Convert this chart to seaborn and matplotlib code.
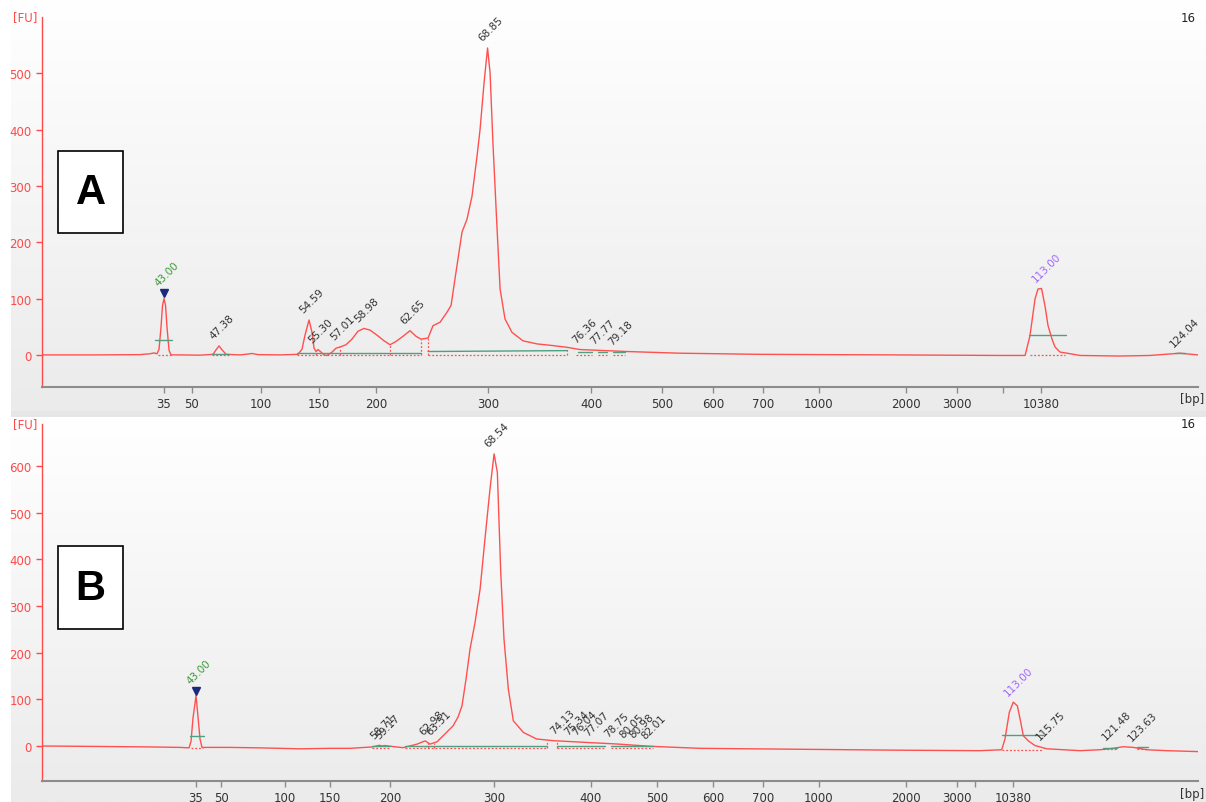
import numpy as np
import pandas as pd
import matplotlib
matplotlib.use("Agg")
import matplotlib.pyplot as plt
import matplotlib.colors as mcolors
from matplotlib.patches import Rectangle
import seaborn as sns

sns.set_theme(style="white")
plt.rcParams['font.family'] = ['DejaVu Sans']

# ---------------- Panel A data (migration time [s] vs fluorescence [FU]) ----------------
time_a = [33.26, 37.89, 41.08, 41.88, 42.20, 42.44, 42.60, 42.76, 42.88, 43.00, 43.12, 43.24,
          43.40, 43.56, 44.28, 45.87, 46.91, 47.15, 47.39, 47.63, 47.95, 49.07, 49.70, 50.02,
          50.50, 52.26, 53.69, 54.01, 54.25, 54.57, 54.81, 54.97, 55.13, 55.29, 55.53, 55.77,
          56.01, 56.41, 56.73, 57.04, 57.52, 58.00, 58.48, 58.96, 59.44, 60.00, 60.56, 61.04,
          61.52, 62.07, 62.63, 63.11, 63.51, 64.07, 64.47, 65.03, 65.59, 65.91, 66.22, 66.62,
          66.78, 67.18, 67.58, 67.98, 68.22, 68.54, 68.82, 69.02, 69.26, 69.58, 69.82, 70.21,
          70.77, 71.65, 72.77, 74.05, 75.16, 76.20, 77.80, 79.95, 84.18, 90.57, 101.18, 109.72,
          111.72, 112.11, 112.51, 112.75, 113.03, 113.31, 113.55, 113.87, 114.11, 114.51, 115.07,
          116.10, 119.30, 121.69, 122.88, 124.08, 125.52]
fu_a = [0, 0, 0.5, 2, 3.5, 2, 10, 50, 88, 100, 88, 48,
        8, 0, 0, -0.5, 1, 9, 16, 9, 1, 0, 1.5, 2.5,
        0.5, 0, 1, 10, 35, 62, 40, 12, 6, 9.5, 5, 0,
        -1, 5, 12, 14, 18, 28, 42, 47, 44, 35, 25, 18,
        24, 33, 43, 33, 28, 30, 52, 58, 76, 88, 135, 194,
        218, 241, 282, 353, 400, 483, 545, 501, 371, 223, 117, 64,
        40, 25, 19.5, 16.5, 13.5, 9.5, 8, 6, 3, 1, 0, -1,
        -1, 34, 99, 117, 118, 87, 52, 28, 14, 5, 3,
        -1, -2, -1, 1, 3, 0]

peak_time_a = [43.00, 47.38, 54.59, 55.30, 57.01, 58.98, 62.65, 68.85, 76.36, 77.77, 79.18, 113.00, 124.04]
peak_lab_y_a = [112, 18, 64, 12, 16, 48, 45, 548, 12, 10, 8, 120, 5]

# ---------------- Panel B data ----------------
time_b = [29.80, 34.77, 39.06, 41.63, 42.40, 42.57, 42.74, 43.00, 43.17, 43.34, 43.51, 45.91,
          48.48, 51.91, 54.48, 56.20, 58.10, 58.71, 58.95, 59.17, 59.80, 60.74, 61.94, 62.63,
          63.05, 63.65, 64.34, 65.02, 65.45, 65.79, 66.14, 66.48, 66.91, 67.34, 67.76, 68.19,
          68.54, 68.82, 69.11, 69.39, 69.76, 70.19, 71.05, 72.19, 73.62, 76.19, 79.05, 81.90,
          86.19, 94.76, 103.33, 110.18, 112.04, 112.32, 112.69, 113.03, 113.38, 113.67, 113.89,
          114.32, 114.89, 115.90, 118.75, 120.46, 121.60, 122.46, 123.32, 124.46, 126.17, 128.86]
fu_b = [0, -1, -2, -3, -4, 10, 60, 108, 62, 15, -3, -3,
        -4, -6, -5, -5, -2, 1.5, 0, 1, -1, -3.6, 4, 11,
        4, 9, 26, 43, 62, 86, 144, 208, 265, 336, 444, 551,
        626, 586, 372, 229, 122, 54, 29, 15, 11.4, 8, 4.3, -0.6,
        -5, -7, -9, -10, -8, 15, 72, 94, 86, 51, 22,
        11, 1, -6, -10, -8, -5, -1.5, -3, -8, -10, -12]

peak_time_b = [43.00, 58.71, 59.17, 62.98, 63.51, 68.54, 74.13, 75.34, 76.04, 77.07, 78.75,
               80.05, 80.98, 82.01, 113.00, 115.75, 121.48, 123.63]
peak_lab_y_b = [120, 2, 2, 12, 12, 628, 14, 12, 11, 10, 8, 6, 5, 4, 96, 0, 0, -2]

# ---------------- Axis ticks (size in bp at migration time) ----------------
tick_labels = ['35', '50', '100', '150', '200', '300', '400', '500', '600', '700',
               '1000', '2000', '3000', '10380']
tick_time_a = [43.0, 45.23, 50.74, 55.37, 59.92, 68.86, 77.08, 82.78, 86.81, 90.81,
               95.27, 102.2, 106.3, 113.0]
tick_time_b = [43.0, 45.14, 50.63, 54.48, 59.62, 68.54, 76.82, 82.53, 87.30, 91.59,
               96.38, 103.84, 108.21, 113.0]
extra_tick_a = 109.99
extra_tick_b = 109.75

# integration baselines (t0, y0, t1, y1)
green_a = [(42.28, 27, 43.64, 27), (46.8, 2, 48.2, 2), (53.6, 3.5, 63.5, 3.5),
           (64.07, 6, 75.16, 7.6), (76.04, 5, 77.16, 5), (77.64, 5, 78.36, 5),
           (78.84, 5, 79.8, 5), (112.0, 35, 114.95, 35), (123.7, 3, 124.5, 3)]
dotted_a = [(42.5, -1, 43.6, -1), (46.8, -1, 48.2, -1), (53.6, -1, 63.5, -1),
            (64.07, -1, 75.16, -1), (75.9, -1, 77.16, -1), (77.64, -1, 78.36, -1),
            (78.84, -1, 79.8, -1), (112.1, -1, 114.9, -1)]
vdot_a = [(55.13, -1, 6), (57.04, -1, 14), (61.04, -1, 18), (63.51, -1, 28),
          (64.07, -1, 30), (75.16, -1, 13.5)]

green_b = [(42.49, 22, 43.69, 22), (58.08, -1, 59.62, -1), (60.9, -1, 73.05, -1),
           (73.9, -1, 78.05, -1), (78.6, -1, 82.16, -1), (112.04, 24, 115.6, 24),
           (120.7, -4, 121.9, -4), (123.6, -3, 124.6, -3)]
dotted_b = [(42.6, -4, 43.6, -4), (58.08, -5, 59.62, -5), (60.9, -5, 73.05, -5),
            (73.9, -5, 78.05, -5), (78.6, -5, 82.16, -5), (112.04, -8, 115.6, -8),
            (120.7, -6, 121.9, -6), (123.6, -6, 124.6, -6)]
vdot_b = [(73.05, -5, 12), (73.9, -5, 11), (62.9, -5, 8), (63.4, -5, 6)]

RED = '#ff4a4a'
TRACE = '#ff5050'
GREEN = '#4f9f82'
FW, FH = 1206, 803

fig = plt.figure(figsize=(FW / 100, FH / 100), dpi=100)
fig.patch.set_facecolor('white')


def background(y_top_px, y_bot_px):
    axb = fig.add_axes([11 / FW, 1 - y_bot_px / FH, 1 - 11 / FW, (y_bot_px - y_top_px) / FH], zorder=0)
    grad = np.linspace(0, 1, 256).reshape(-1, 1)
    cmap = mcolors.LinearSegmentedColormap.from_list('g', ['#ffffff', '#ebebeb'])
    axb.imshow(grad, aspect='auto', cmap=cmap, extent=[0, 1, 0, 1], origin='upper')
    axb.set_axis_off()


background(0, 412)
background(418, 803)
band = fig.add_axes([11 / FW, 1 - 418 / FH, 1 - 11 / FW, 6 / FH], zorder=0)
band.set_axis_off()
band.add_patch(Rectangle((0, 0), 1, 1, transform=band.transAxes, color='#e6e6e6'))


def panel(rect, t, fu, xlim, ylim, yticks, ttimes, extra_tick, ptimes, plab_y,
          green, dotted, vdot, tri_y):
    ax = fig.add_axes(rect, zorder=2)
    ax.patch.set_alpha(0)
    df = pd.DataFrame({'time': t, 'fu': fu})
    sns.lineplot(data=df, x='time', y='fu', ax=ax, color=TRACE, lw=1.0, sort=False)
    for (t0, y0, t1, y1) in green:
        ax.plot([t0, t1], [y0, y1], color=GREEN, lw=1.0, zorder=3)
    for (t0, y0, t1, y1) in dotted:
        ax.plot([t0, t1], [y0, y1], color=TRACE, lw=0.9, ls=(0, (1.5, 1.5)), zorder=3)
    for (tt, y0, y1) in vdot:
        ax.plot([tt, tt], [y0, y1], color=TRACE, lw=0.9, ls=(0, (1.5, 1.5)), zorder=3)
    # internal standard marker
    ax.plot([43.0], [tri_y], marker='v', color='#1b2a7a', ms=6, zorder=4, ls='none')
    for tp, yp in zip(ptimes, plab_y):
        col = '#333333'
        if abs(tp - 43.0) < 1e-6:
            col = '#3c9a3c'
        elif abs(tp - 113.0) < 1e-6:
            col = '#a066ff'
        ax.annotate(f'{tp:.2f}', xy=(tp, yp), xytext=(-3, 3), textcoords='offset points',
                    rotation=45, rotation_mode='anchor', ha='left', va='bottom',
                    fontsize=7.5, color=col, annotation_clip=False)
    ax.set_xlim(*xlim)
    ax.set_ylim(*ylim)
    ax.set_xticks(list(ttimes) + [extra_tick])
    ax.set_xticklabels(tick_labels + [''])
    ax.set_yticks(yticks)
    ax.set_yticklabels([str(v) for v in yticks])
    ax.set_xlabel('')
    ax.set_ylabel('')
    for s in ['top', 'right']:
        ax.spines[s].set_visible(False)
    ax.spines['left'].set_color(RED)
    ax.spines['left'].set_linewidth(1.0)
    ax.spines['bottom'].set_color('#8c8c8c')
    ax.spines['bottom'].set_linewidth(1.5)
    ax.tick_params(axis='y', colors=RED, labelcolor=RED, labelsize=8.5, length=4,
                   direction='out', left=True, width=1)
    ax.tick_params(axis='x', colors='#8c8c8c', labelcolor='#333333', labelsize=8.5,
                   length=4, direction='out', bottom=True, width=1)
    ax.grid(False)
    return ax


axA = panel([42 / FW, 1 - 388 / FH, (1198 - 42) / FW, (388 - 18) / FH], time_a, fu_a,
            (33.26, 125.52), (-57, 600), [0, 100, 200, 300, 400, 500], tick_time_a,
            extra_tick_a, peak_time_a, peak_lab_y_a, green_a, dotted_a, vdot_a, 110)
axB = panel([42 / FW, 1 - 782 / FH, (1198 - 42) / FW, (782 - 425) / FH], time_b, fu_b,
            (29.80, 128.86), (-75, 690), [0, 100, 200, 300, 400, 500, 600], tick_time_b,
            extra_tick_b, peak_time_b, peak_lab_y_b, green_b, dotted_b, vdot_b, 117)

# unit labels and sample number
for ytop, ybot in [(18, 400), (425, 795)]:
    fig.text(37 / FW, 1 - ytop / FH, '[FU]', ha='right', va='center', color=RED, fontsize=8.5)
    fig.text(1196 / FW, 1 - ytop / FH, '16', ha='right', va='center', color='#222222', fontsize=8.5)
    fig.text(1204 / FW, 1 - ybot / FH, '[bp]', ha='right', va='center', color='#333333', fontsize=8.5)

# panel letters
for letter, (y0, y1) in [('A', (152, 234)), ('B', (547, 630))]:
    fig.patches.append(Rectangle((58 / FW, 1 - y1 / FH), 65 / FW, (y1 - y0) / FH,
                                 transform=fig.transFigure, facecolor='white',
                                 edgecolor='black', lw=1.2, zorder=5))
    fig.text(90.5 / FW, 1 - ((y0 + y1) / 2) / FH, letter, ha='center', va='center',
             fontsize=30, fontweight='bold', family=['Liberation Sans', 'DejaVu Sans'],
             color='black', zorder=6)

fig.savefig('out.png', dpi=100, facecolor=fig.get_facecolor())
